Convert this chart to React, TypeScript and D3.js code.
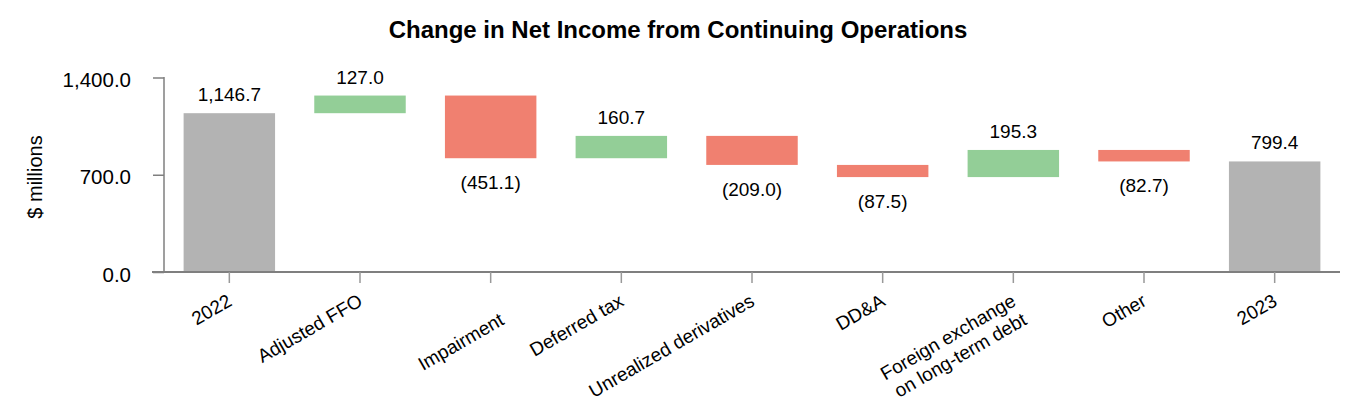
import * as d3 from "d3";

// waterfall steps
const categories = [
  "2022",
  "Adjusted FFO",
  "Impairment",
  "Deferred tax",
  "Unrealized derivatives",
  "DD&A",
  "Foreign exchange on long-term debt",
  "Other",
  "2023",
];
const values = [1146.7, 127.0, -451.1, 160.7, -209.0, -87.5, 195.3, -82.7, 799.4];
const isTotal = [true, false, false, false, false, false, false, false, true];
// how the axis labels are broken into lines ("" = blank first line)
const labelLines = [
  ["2022"],
  ["Adjusted FFO"],
  ["", "Impairment"],
  ["Deferred tax"],
  ["Unrealized derivatives"],
  ["DD&A"],
  ["Foreign exchange", "on long-term debt"],
  ["Other"],
  ["2023"],
];
const yTicks = [0, 700, 1400];

const W = 1360;
const H = 420;
const FONT = "'Liberation Sans', Arial, Helvetica, sans-serif";

const GRAY = "#b3b3b3";
const GREEN = "#93ce97";
const RED = "#f08070";
const AXIS = "#7f7f7f";

type Step = { name: string; lines: string[]; value: number; y0: number; y1: number; total: boolean };

export default function App() {
  // running totals for the floating bars
  let run = 0;
  const steps: Step[] = categories.map((name, i) => {
    const v = values[i];
    let y0: number, y1: number;
    if (isTotal[i]) {
      y0 = 0;
      y1 = v;
      run = v;
    } else {
      y0 = run;
      y1 = run + v;
      run = y1;
    }
    return { name, lines: labelLines[i], value: v, y0, y1, total: isTotal[i] };
  });

  const x = d3
    .scaleBand<string>()
    .domain(categories)
    .range([164, 1340])
    .paddingInner(0.3)
    .paddingOuter(0.15);
  const y = d3.scaleLinear().domain([0, 1400]).range([272.5, 78]);

  const fmt = d3.format(",.1f");
  const labelText = (s: Step) => (s.value < 0 ? `(${fmt(-s.value)})` : fmt(s.value));
  const fill = (s: Step) => (s.total ? GRAY : s.value >= 0 ? GREEN : RED);

  const axisX = 164;
  const axisY = 272;

  return (
    <svg
      width={W}
      height={H}
      style={{ position: "absolute", left: 0, top: 0, background: "#fff" }}
      fontFamily={FONT}
    >
      <text x={678} y={38} textAnchor="middle" fontSize={24} fontWeight={700} fill="#000">
        Change in Net Income from Continuing Operations
      </text>

      {/* y axis title */}
      <text
        transform={`translate(42,177) rotate(-90)`}
        textAnchor="middle"
        fontSize={20}
        fill="#000"
      >
        $ millions
      </text>

      {/* bars */}
      {steps.map((s) => {
        const top = y(Math.max(s.y0, s.y1));
        const bot = y(Math.min(s.y0, s.y1));
        return (
          <rect
            key={s.name}
            x={x(s.name)}
            y={top}
            width={x.bandwidth()}
            height={bot - top}
            fill={fill(s)}
          />
        );
      })}

      {/* value labels */}
      {steps.map((s) => {
        const cx = (x(s.name) ?? 0) + x.bandwidth() / 2;
        const neg = s.value < 0;
        const yy = neg ? y(Math.min(s.y0, s.y1)) + 31 : y(Math.max(s.y0, s.y1)) - 12;
        return (
          <text key={s.name} x={cx} y={yy} textAnchor="middle" fontSize={19} fill="#000">
            {labelText(s)}
          </text>
        );
      })}

      {/* y axis */}
      <line x1={axisX} x2={axisX} y1={y(1400) - 1} y2={axisY} stroke={AXIS} strokeWidth={1.5} />
      {yTicks.map((t) => (
        <g key={t}>
          <line x1={153} x2={axisX} y1={y(t)} y2={y(t)} stroke={AXIS} strokeWidth={1.5} />
          <text
            x={131}
            y={y(t)}
            dy="0.45em"
            textAnchor="end"
            fontSize={20.5}
            fill="#000"
          >
            {fmt(t)}
          </text>
        </g>
      ))}

      {/* x axis */}
      <line x1={152} x2={1340} y1={axisY} y2={axisY} stroke={AXIS} strokeWidth={2} />
      {steps.map((s) => {
        const cx = (x(s.name) ?? 0) + x.bandwidth() / 2;
        return (
          <g key={s.name}>
            <line x1={cx} x2={cx} y1={axisY} y2={axisY + 11} stroke="#999" strokeWidth={1.5} />
            <text
              transform={`translate(${cx - 3},293) rotate(-30)`}
              textAnchor="end"
              fontSize={19}
              fill="#000"
            >
              {s.lines.map((ln, i) => (
                <tspan key={i} x={0} dy={i === 0 ? "0.71em" : "1.15em"}>
                  {ln === "" ? "\u00a0" : ln}
                </tspan>
              ))}
            </text>
          </g>
        );
      })}
    </svg>
  );
}
